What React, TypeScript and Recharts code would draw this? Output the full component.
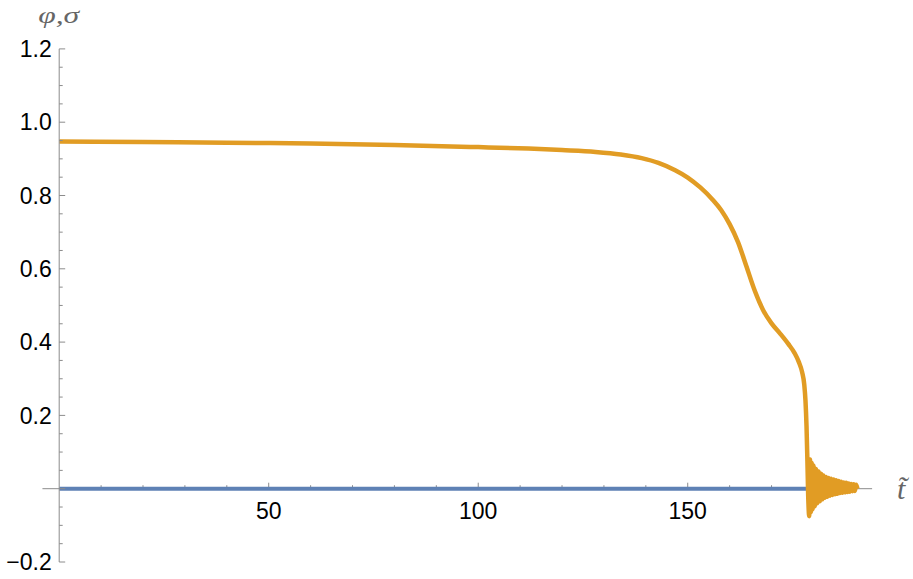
import React from 'react';
import { LineChart, Line, XAxis, YAxis, ReferenceLine } from 'recharts';

// phi(t) – orange curve
const phiT = [
  0, 20, 40, 60, 80, 100, 112, 120, 128, 134, 139, 143, 147, 150, 153, 156, 158, 160, 162, 164,
  166, 168, 170, 172, 174, 175.5, 176.5, 177.3, 177.8, 178.1, 178.35, 178.55, 178.75,
  179.0, 179.2, 179.4, 179.6, 179.8, 180.0, 180.3, 180.6, 180.9, 181.2, 181.5, 181.8, 182.1,
  182.4, 182.7, 183.0, 183.3, 183.6, 183.9, 184.2, 184.5, 184.8, 185.1, 185.4, 185.7, 186.0,
  186.3, 186.6, 186.9, 187.2, 187.5, 187.8, 188.1, 188.4, 188.7, 189.0, 189.3, 189.6, 189.9,
  190.2, 190.5,
];
const phiValues = [
  0.947, 0.946, 0.944, 0.942, 0.938, 0.932, 0.928, 0.924, 0.919, 0.912, 0.902, 0.889, 0.869,
  0.849, 0.822, 0.788, 0.76, 0.722, 0.673, 0.607, 0.54, 0.487, 0.451, 0.424, 0.395, 0.37, 0.346,
  0.318, 0.285, 0.24, 0.17, 0.08, -0.02,
  -0.075, 0.08, -0.064, 0.07, -0.056, 0.063, -0.048, 0.054, -0.04, 0.047, -0.034, 0.041, -0.029,
  0.036, -0.025, 0.032, -0.022, 0.029, -0.019, 0.027, -0.017, 0.025, -0.015, 0.023, -0.014,
  0.021, -0.012, 0.019, -0.011, 0.017, -0.01, 0.016, -0.009, 0.014, -0.008, 0.013, -0.007,
  0.012, -0.006, 0.011, 0.0,
];

// sigma(t) – blue curve
const sigmaT = [0, 178.5];
const sigmaValues = [0, 0];

// ticks
const xMajorTicks = [50, 100, 150];
const xMajorLabels = ['50', '100', '150'];
const xMinorTicks = [10, 20, 30, 40, 60, 70, 80, 90, 110, 120, 130, 140, 160, 170, 180, 190];
const yMajorTicks = [-0.2, 0, 0.2, 0.4, 0.6, 0.8, 1.0, 1.2];
const yMajorLabels = ['\u22120.2', '', '0.2', '0.4', '0.6', '0.8', '1.0', '1.2'];
const yMinorTicks = [
  -0.15, -0.1, -0.05, 0.05, 0.1, 0.15, 0.25, 0.3, 0.35, 0.45, 0.5, 0.55, 0.65, 0.7, 0.75, 0.85,
  0.9, 0.95, 1.05, 1.1, 1.15,
];

const phiData = phiT.map((t, i) => ({ t, phi: phiValues[i] }));
const sigmaData = sigmaT.map((t, i) => ({ t, sigma: sigmaValues[i] }));
const yTicks = [...yMajorTicks, ...yMinorTicks].sort((a, b) => a - b);

const AXIS = '#8c8c8c';
const FONT = "'Liberation Sans', Arial, sans-serif";
const SERIF = "'Liberation Serif', 'Times New Roman', serif";

const YTick = (props: any) => {
  const { x, y, payload } = props;
  const v = payload.value;
  const idx = yMajorTicks.findIndex((m) => Math.abs(m - v) < 1e-9);
  const major = idx >= 0;
  const len = major ? 6 : 3.5;
  const label = major ? yMajorLabels[idx] : '';
  return (
    <g>
      <line x1={x} x2={x + len} y1={y} y2={y} stroke={AXIS} strokeWidth={1} />
      {label ? (
        <text x={x - 7.5} y={y} dy="0.36em" textAnchor="end" fontSize={23} fontFamily={FONT} fill="#000">
          {label}
        </text>
      ) : null}
    </g>
  );
};

export default function App() {
  return (
    <div style={{ position: 'absolute', left: 0, top: 0, background: '#fff' }}>
      <LineChart
        width={913}
        height={579}
        margin={{ top: 48.9, right: 40.9, bottom: 17, left: 0 }}
      >
        <XAxis dataKey="t" type="number" domain={[0, 194]} hide allowDataOverflow />
        <YAxis
          type="number"
          domain={[-0.2, 1.2]}
          ticks={yTicks}
          interval={0}
          width={59.2}
          tickSize={0}
          tickMargin={0}
          tickLine={false}
          axisLine={{ stroke: AXIS, strokeWidth: 1 }}
          tick={<YTick />}
          allowDataOverflow
          label={{
            value: '\u03C6,\u03C3',
            content: (p: any) => {
              const vb = p.viewBox;
              return (
                <text
                  x={vb.x + vb.width - 21}
                  y={vb.y - 26}
                  textAnchor="start"
                  fontSize={24}
                  fontStyle="italic"
                  fontFamily={SERIF}
                  fill="#666"
                  textLength={41}
                  lengthAdjust="spacingAndGlyphs"
                >
                  {'\u03C6,\u03C3'}
                </text>
              );
            },
          }}
        />
        <ReferenceLine
          segment={[{ x: -4, y: 0 }, { x: 194, y: 0 }]}
          stroke={AXIS}
          strokeWidth={1}
          ifOverflow="visible"
          label={{
            value: 't\u0303',
            position: 'right',
            offset: 25,
            fontSize: 30,
            fontStyle: 'italic',
            fontFamily: SERIF,
            fill: '#666',
          }}
        />
        {xMinorTicks.map((t) => (
          <ReferenceLine
            key={'mn' + t}
            segment={[{ x: t, y: 0 }, { x: t, y: 0.0095 }]}
            stroke={AXIS}
            strokeWidth={1}
            ifOverflow="visible"
          />
        ))}
        {xMajorTicks.map((t, i) => (
          <ReferenceLine
            key={'mj' + t}
            segment={[{ x: t, y: 0 }, { x: t, y: 0.0164 }]}
            stroke={AXIS}
            strokeWidth={1}
            ifOverflow="visible"
            label={{
              value: xMajorLabels[i],
              position: 'bottom',
              offset: 14,
              fontSize: 23,
              fontFamily: FONT,
              fill: '#000',
            }}
          />
        ))}
        <Line
          data={sigmaData}
          dataKey="sigma"
          type="linear"
          stroke="#5E81B5"
          strokeWidth={4}
          dot={false}
          activeDot={false}
          isAnimationActive={false}
        />
        <Line
          data={phiData}
          dataKey="phi"
          type="monotone"
          stroke="#E19C24"
          strokeWidth={4.5}
          dot={false}
          activeDot={false}
          isAnimationActive={false}
        />
      </LineChart>
    </div>
  );
}
